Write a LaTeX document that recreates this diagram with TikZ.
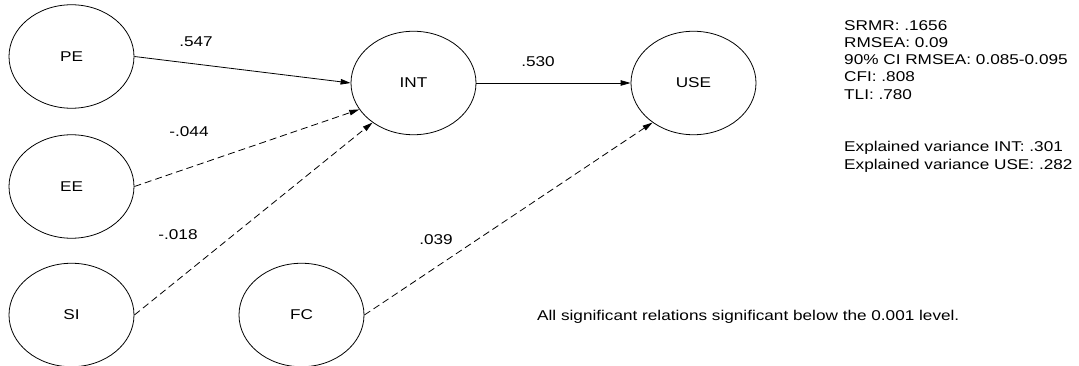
\documentclass[tikz,border=0pt]{standalone}
\usepackage{fontspec}
\setmainfont[FakeStretch=1.21]{Liberation Sans}
\usetikzlibrary{shapes.geometric,arrows.meta}
\tikzset{
  latent/.style={ellipse, draw, line width=0.8pt, minimum width=125pt, minimum height=103.5pt, inner sep=0pt},
  path/.style={line width=0.8pt, -{Triangle[length=10pt,width=5.5pt]}},
  nonsig/.style={path, dash pattern=on 7pt off 4pt},
  coef/.style={anchor=base, inner sep=0pt},
  info/.style={anchor=base west, inner sep=0pt}
}
\begin{document}
\begin{tikzpicture}[x=1pt, y=-1pt, font=\fontsize{14.2}{17.3}\selectfont]
\useasboundingbox (0,0) rectangle (1079,366);

% latent constructs
\node[latent] (PE)  at (71.5,56.5)  {PE};
\node[latent] (EE)  at (71.5,186.5) {EE};
\node[latent] (SI)  at (71.5,315)   {SI};
\node[latent] (FC)  at (301.5,315)  {FC};
\node[latent] (INT) at (413.5,83)   {INT};
\node[latent] (USE) at (693.5,83)   {USE};

% structural paths
\draw[path]   (PE.east) -- (INT.west);
\draw[path]   (INT.east) -- (USE.west);
\draw[nonsig] (EE.east) -- (INT.206);
\draw[nonsig] (SI.east) -- (INT.224);
\draw[nonsig] (FC.east) -- (USE.224);

% path coefficients
\node[coef] (cPE)  at (196,47)    {.547};
\node[coef] (cINT) at (538,66.8)  {.530};
\node[coef] (cEE)  at (189,136.8) {-.044};
\node[coef] (cSI)  at (178,240)   {-.018};
\node[coef] (cFC)  at (436,244)   {.039};

% fit indices
\node[info] (srmr)  at (844,30.1)  {SRMR: .1656};
\node[info] (rmsea) at (844,47.4)  {RMSEA: 0.09};
\node[info] (ci)    at (844,64.7)  {90\% CI RMSEA: 0.085-0.095};
\node[info] (cfi)   at (844,82)    {CFI: .808};
\node[info] (tli)   at (844,99.3)  {TLI: .780};

% explained variance
\node[info] (r2int) at (844,151.8) {Explained variance INT: .301};
\node[info] (r2use) at (844,169.1) {Explained variance USE: .282};

% note
\node[info] (note)  at (537,320)   {All significant relations significant below the 0.001 level.};
\end{tikzpicture}
\end{document}
